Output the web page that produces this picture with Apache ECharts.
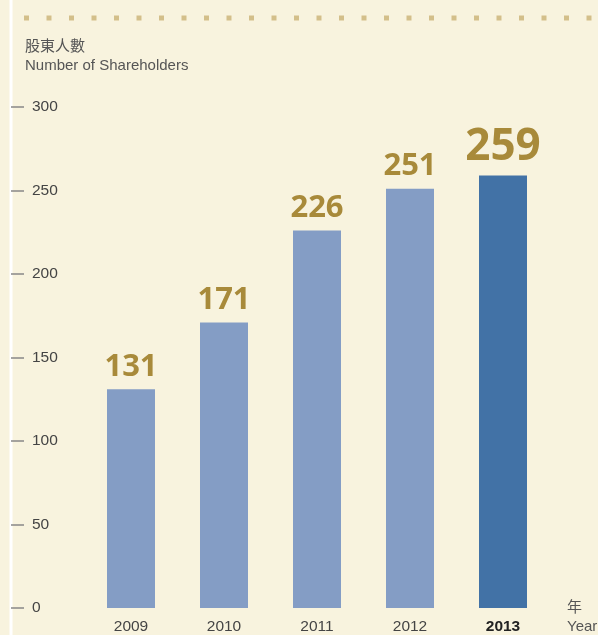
<!DOCTYPE html>
<html>
<head>
<meta charset="utf-8">
<script src="https://cdn.jsdelivr.net/npm/echarts@6/dist/echarts.min.js"></script>
<style>
  html, body { margin: 0; padding: 0; background: #f8f3de; }
  #chart { width: 598px; height: 635px; }
</style>
</head>
<body>
<div id="chart"></div>
<script>
var years = ['2009', '2010', '2011', '2012', '2013'];
var holders = [131, 171, 226, 251, 259];
var yTicks = [0, 50, 100, 150, 200, 250, 300];

var lightBar = '#849dc5';
var darkBar = '#4272a6';
var gold = '#a88a3a';

var myChart = echarts.init(document.getElementById('chart'));

var barData = holders.map(function (v, i) {
    var last = i === holders.length - 1;
    return {
        value: v,
        itemStyle: { color: last ? darkBar : lightBar },
        label: {
            fontSize: last ? 44 : 31,
            distance: last ? 6 : 7
        }
    };
});

option = {
    backgroundColor: '#f8f3de',
    textStyle: { fontFamily: 'Liberation Sans, Arial, sans-serif' },
    title: {
        text: '股東人數\nNumber of Shareholders',
        left: 25,
        top: 37,
        padding: 0,
        textStyle: {
            fontSize: 15,
            fontWeight: 'normal',
            color: '#555',
            lineHeight: 19,
            fontFamily: 'Liberation Sans, Noto Sans CJK TC, sans-serif'
        }
    },
    grid: { left: 84.5, right: 48.5, top: 107, bottom: 27 },
    xAxis: {
        type: 'category',
        data: years,
        axisLine: { show: false },
        axisTick: { show: false },
        axisLabel: {
            margin: 11,
            fontSize: 15.5,
            color: '#444',
            formatter: function (v, i) {
                return i === years.length - 1 ? '{b|' + v + '}' : v;
            },
            rich: { b: { fontSize: 15.5, fontWeight: 'bold', color: '#222' } }
        }
    },
    yAxis: {
        type: 'value',
        min: yTicks[0],
        max: yTicks[yTicks.length - 1],
        interval: 50,
        offset: 73.5,
        axisLine: { show: false },
        splitLine: { show: false },
        axisTick: {
            show: true,
            inside: true,
            length: 13,
            lineStyle: { color: '#888', width: 1.5 }
        },
        axisLabel: {
            inside: true,
            margin: 21,
            fontSize: 15.5,
            color: '#444'
        }
    },
    graphic: [
        {
            type: 'rect',
            shape: { x: 9.5, y: 0, width: 3, height: 635 },
            style: { fill: '#ffffff' },
            z: -1
        },
        {
            type: 'line',
            shape: { x1: 24, y1: 18, x2: 598, y2: 18 },
            style: { stroke: '#d3bf8a', lineWidth: 5, lineDash: [5, 17.5] }
        },
        {
            type: 'text',
            left: 567,
            top: 598,
            style: {
                text: '年\nYear',
                font: '15px "Liberation Sans", "Noto Sans CJK TC", sans-serif',
                fill: '#555',
                lineHeight: 19
            }
        }
    ],
    series: [{
        type: 'bar',
        data: barData,
        barWidth: 48,
        label: {
            show: true,
            position: 'top',
            color: gold,
            fontWeight: 'bold',
            fontFamily: 'Open Sans, sans-serif'
        }
    }]
};

myChart.setOption(option, true);
</script>
</body>
</html>
